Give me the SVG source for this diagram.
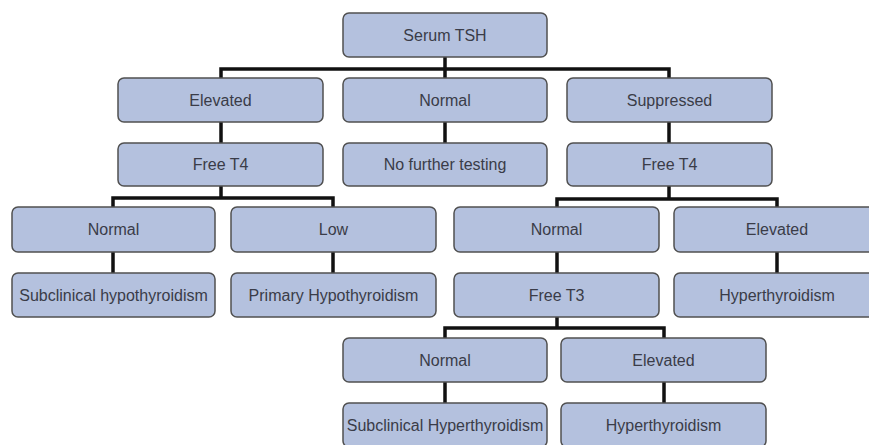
<svg xmlns="http://www.w3.org/2000/svg" width="869" height="445" viewBox="0 0 869 445">
<style>
.box{fill:#b4c1de;stroke:#505050;stroke-width:1.5}
.lbl{font-family:"Liberation Sans",Arial,sans-serif;font-size:16px;fill:#3a3c48;text-anchor:middle;dominant-baseline:central}
.con{fill:none;stroke:#111;stroke-width:3.5;stroke-linejoin:miter}
</style>
<rect width="869" height="445" fill="#fff"/>
<g id="connectors">
<path class="con" d="M445 57V78M221 78V69H669V78"/>
<path class="con" d="M221 122V143M445 122V143M669 122V143"/>
<path class="con" d="M221 186V198M113 207V198H333V207"/>
<path class="con" d="M669 186V199M557 207V199H777V207"/>
<path class="con" d="M113 252V273M333 252V273M557 252V273M777 252V273"/>
<path class="con" d="M557 317V328M445 338V328H664V338"/>
<path class="con" d="M445 382V403M664 382V403"/>
</g>
<g id="serum-tsh"><rect class="box" x="343" y="13" width="204" height="44" rx="6"/><text class="lbl" x="445" y="35">Serum TSH</text></g>
<g id="elevated"><rect class="box" x="118" y="78" width="205" height="44" rx="6"/><text class="lbl" x="220.5" y="100">Elevated</text></g>
<g id="normal"><rect class="box" x="343" y="78" width="204" height="44" rx="6"/><text class="lbl" x="445" y="100">Normal</text></g>
<g id="suppressed"><rect class="box" x="567" y="78" width="205" height="44" rx="6"/><text class="lbl" x="669.5" y="100">Suppressed</text></g>
<g id="free-t4-left"><rect class="box" x="118" y="143" width="205" height="43" rx="6"/><text class="lbl" x="220.5" y="164.5">Free T4</text></g>
<g id="no-further-testing"><rect class="box" x="343" y="143" width="204" height="43" rx="6"/><text class="lbl" x="445" y="164.5">No further testing</text></g>
<g id="free-t4-right"><rect class="box" x="567" y="143" width="205" height="43" rx="6"/><text class="lbl" x="669.5" y="164.5">Free T4</text></g>
<g id="normal-left"><rect class="box" x="12" y="207" width="203" height="45" rx="6"/><text class="lbl" x="113.5" y="229.5">Normal</text></g>
<g id="low"><rect class="box" x="231" y="207" width="205" height="45" rx="6"/><text class="lbl" x="333.5" y="229.5">Low</text></g>
<g id="normal-right"><rect class="box" x="454" y="207" width="205" height="45" rx="6"/><text class="lbl" x="556.5" y="229.5">Normal</text></g>
<g id="elevated-right"><rect class="box" x="674" y="207" width="206" height="45" rx="6"/><text class="lbl" x="777" y="229.5">Elevated</text></g>
<g id="subclinical-hypo"><rect class="box" x="12" y="273" width="203" height="44" rx="6"/><text class="lbl" x="113.5" y="295">Subclinical hypothyroidism</text></g>
<g id="primary-hypo"><rect class="box" x="231" y="273" width="205" height="44" rx="6"/><text class="lbl" x="333.5" y="295">Primary Hypothyroidism</text></g>
<g id="free-t3"><rect class="box" x="454" y="273" width="205" height="44" rx="6"/><text class="lbl" x="556.5" y="295">Free T3</text></g>
<g id="hyper-right"><rect class="box" x="674" y="273" width="206" height="44" rx="6"/><text class="lbl" x="777" y="295">Hyperthyroidism</text></g>
<g id="normal-t3"><rect class="box" x="343" y="338" width="204" height="44" rx="6"/><text class="lbl" x="445" y="360">Normal</text></g>
<g id="elevated-t3"><rect class="box" x="561" y="338" width="205" height="44" rx="6"/><text class="lbl" x="663.5" y="360">Elevated</text></g>
<g id="subclinical-hyper"><rect class="box" x="343" y="403" width="204" height="44" rx="6"/><text class="lbl" x="445" y="425">Subclinical Hyperthyroidism</text></g>
<g id="hyper-bottom"><rect class="box" x="561" y="403" width="205" height="44" rx="6"/><text class="lbl" x="663.5" y="425">Hyperthyroidism</text></g>
</svg>
